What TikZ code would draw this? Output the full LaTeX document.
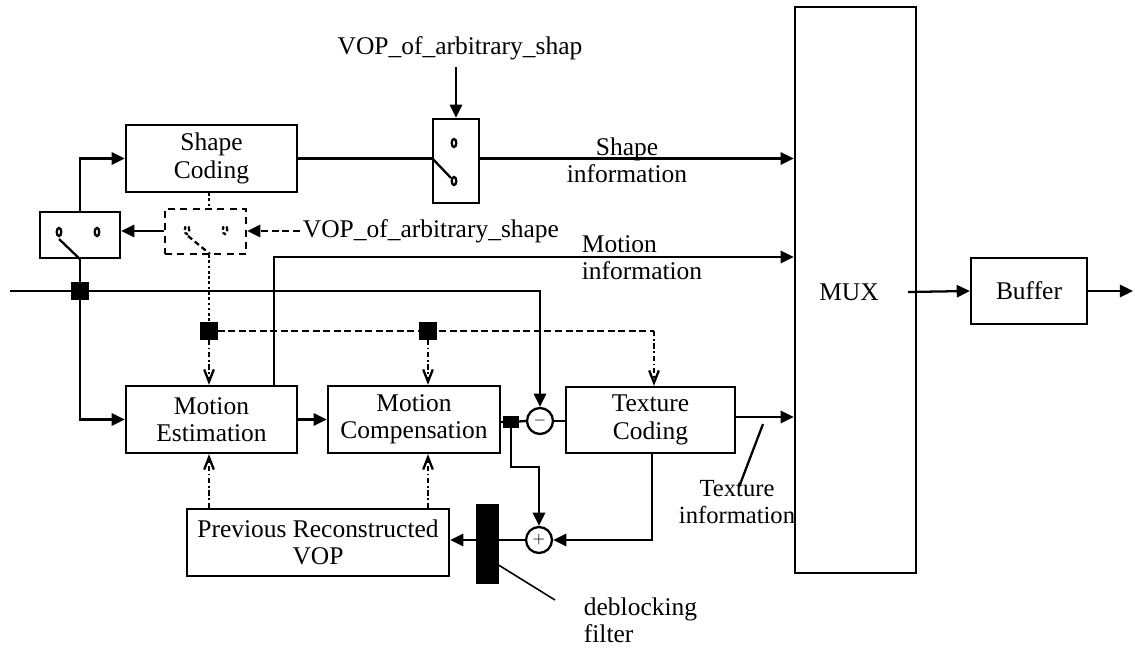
\documentclass[tikz,border=0pt]{standalone}
\usepackage{fontspec}
\setmainfont{Liberation Serif}
\usetikzlibrary{arrows.meta}
\tikzset{
	>={Triangle[length=7.5pt,width=7pt]},
	block/.style={draw=black, line width=1.3pt, align=center, inner sep=0pt,
		font=\fontsize{14.5}{15.5}\selectfont},
	txt/.style={align=center, inner sep=1pt, font=\fontsize{14.5}{15.5}\selectfont},
	smalltxt/.style={align=center, inner sep=1pt, font=\fontsize{14}{15}\selectfont},
	junction/.style={draw=black, fill=black, minimum size=0.3cm, inner sep=0pt},
	summer/.style={circle, draw=black, line width=1.3pt, minimum size=0.52cm, inner sep=0pt,
		font=\small},
	signal/.style={draw=black, line width=1.3pt},
	signalarrow/.style={signal, ->},
	dashbox/.style={draw=black, line width=1.3pt, dash pattern=on 4pt off 3pt},
	control/.style={draw=black, line width=1.3pt, dash pattern=on 4pt off 2pt},
	controldot/.style={draw=black, line width=1.3pt, dash pattern=on 1.5pt off 1.5pt},
	controlarrow/.style={draw=black, line width=1.3pt, dash pattern=on 3pt off 1.5pt on 1pt off 1.5pt,
		-{Straight Barb[length=7pt,width=5.5pt]}},
}
\begin{document}
\begin{tikzpicture}[x=0.02cm, y=-0.02cm, line width=1.3pt]
	\useasboundingbox (0,0) rectangle (1135,648);
	% blocks
	\node[block, minimum width=3.42cm, minimum height=1.34cm] (shape) at (211.5,158.5) {Shape\\Coding};
	\node[block, minimum width=3.42cm, minimum height=1.34cm] (me) at (211.5,419.5) {Motion\\Estimation};
	\node[block, minimum width=3.44cm, minimum height=1.34cm] (mc) at (414,419.5) {Motion\\Compensation};
	\node[block, minimum width=3.38cm, minimum height=1.32cm] (tc) at (650.5,420) {Texture\\Coding};
	\node[block, minimum width=5.24cm, minimum height=1.34cm] (prv) at (318,542.5) {Previous Reconstructed\\VOP};
	\node[block, minimum width=2.42cm, minimum height=11.32cm] (mux) at (855.5,290) {};
	\node[txt] (muxtext) at (849,292) {MUX};
	\node[block, minimum width=2.32cm, minimum height=1.32cm] (buf) at (1029,291) {Buffer};
	\node[draw=black, fill=black, line width=0.6pt, minimum width=0.42cm, minimum height=1.56cm] (filter) at (487.5,544) {};
	% switches
	\node[block, minimum width=0.92cm, minimum height=1.68cm] (swtop) at (456,161) {};
	\node[block, minimum width=1.6cm, minimum height=0.92cm] (swleft) at (80,235) {};
	\node[dashbox, minimum width=1.62cm, minimum height=0.9cm] (swdash) at (205.5,231.5) {};
	\draw (454,143) ellipse [x radius=1.3pt, y radius=2.3pt];
	\draw (454,181) ellipse [x radius=1.3pt, y radius=2.3pt];
	\draw (swtop.west |- 0,158) -- (451,178);
	\draw (59,232) ellipse [x radius=1.3pt, y radius=2.3pt];
	\draw (97,232) ellipse [x radius=1.3pt, y radius=2.3pt];
	\draw (59,239) -- (swleft.south);
	\draw[dash pattern=on 2pt off 1.5pt] (187,230) ellipse [x radius=1.3pt, y radius=2.3pt];
	\draw[dash pattern=on 2pt off 1.5pt] (225,230) ellipse [x radius=1.3pt, y radius=2.3pt];
	\draw[dash pattern=on 3pt off 2pt] (188,236) -- (210,254);
	% sum points and junctions
	\node[summer] (minus) at (540,421) {$-$};
	\node[summer] (plus) at (539,540) {$+$};
	\node[junction] (sq1) at (80,291) {};
	\node[junction] (sq2) at (209,331) {};
	\node[junction] (sq3) at (428,331) {};
	\node[junction, minimum width=0.26cm, minimum height=0.2cm] (sq4) at (511,422) {};
	% labels
	\node[txt] (vopin) at (460,48) {VOP\_of\_arbitrary\_shap};
	\node[txt, anchor=west] (vopdash) at (300,231) {VOP\_of\_arbitrary\_shape};
	\node[txt] (shapeinfo) at (627,160) {Shape\\information};
	\node[txt, anchor=west, align=left] (motioninfo) at (579,258) {Motion\\information};
	\node[smalltxt] (texinfo) at (737,502) {Texture\\information};
	\node[txt, anchor=west, align=left] (deblock) at (581,620) {deblocking\\filter};
	\coordinate (input) at (10,291);
	\coordinate (output) at (1133,291);
	\coordinate (muxout) at (908,292);
	\coordinate (motup) at (274,257);
	\coordinate (tcin) at (654,331);
	\coordinate (fb) at (539,467);
	\coordinate (texfrom) at (763,424);
	\coordinate (texptr) at (739,487);
	\coordinate (filterptr) at (555,600);
	% shape path
	\draw[signalarrow] (swleft.north) |- (shape.west);
	\draw[signal] (shape.east) -- (shape.east -| swtop.west);
	\draw[signalarrow] (shape.east -| swtop.east) -- (shape.east -| mux.west);
	\draw[signalarrow] (swtop.north |- 0,67) -- (swtop.north);
	\draw[controldot] (sq2 |- shape.south) -- (sq2 |- swdash.north);
	\draw[signalarrow] (swdash.west |- 0,231) -- (swleft.east |- 0,231);
	\draw[control, ->] (vopdash.west) -- (swdash.east |- vopdash.west);
	% texture and motion path
	\draw[signalarrow] (input) -| (minus.north);
	\draw[signalarrow] (swleft.south) -- (sq1) |- (me.west);
	\draw[signalarrow] (me.east) -- (mc.west);
	\draw[signalarrow] (me.north -| motup) -- (motup) -- (motup -| mux.west);
	\draw[signal] (mc.east |- sq4) -- (sq4) -- (minus.west);
	\draw[signal] (minus.east) -- (minus.east -| tc.west);
	\draw[signalarrow] (tc.east |- 0,417) -- (mux.west |- 0,417);
	\draw[signal] (texfrom) -- (texptr);
	\draw[signalarrow] (sq4) |- (fb) -- (plus.north);
	\draw[signalarrow] (tc.south -| 652,0) |- (plus.east);
	\draw[signalarrow] (plus.west) -- (plus.west -| prv.east);
	\draw[signal, line width=0.9pt] (filter.east |- 0,565) -- (filterptr);
	% control lines
	\draw[controldot] (sq2 |- swdash.south) -- (sq2);
	\draw[control] (sq2) -- (tcin);
	\draw[controlarrow] (sq2) -- (sq2 |- me.north);
	\draw[controlarrow] (sq3) -- (sq3 |- mc.north);
	\draw[controlarrow] (tcin) -- (tcin |- tc.north);
	\draw[controlarrow] (sq2 |- prv.north) -- (sq2 |- me.south);
	\draw[controlarrow] (sq3 |- prv.north) -- (sq3 |- mc.south);
	% output
	\draw[signalarrow] (muxout) -- (buf.west);
	\draw[signalarrow] (buf.east) -- (output);
\end{tikzpicture}
\end{document}
